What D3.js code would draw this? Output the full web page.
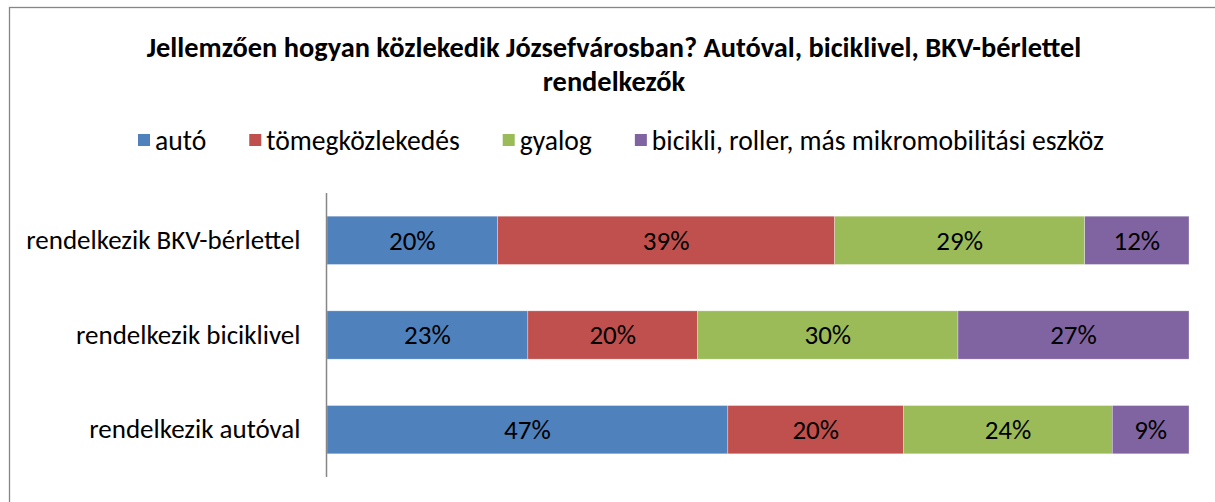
<!DOCTYPE html>
<html><head><meta charset="utf-8">
<script src="https://cdn.jsdelivr.net/npm/d3@7"></script>
<style>
html,body{margin:0;padding:0;background:#fff;}
svg{display:block;}
text{font-family:Carlito,Calibri,Lato,"Open Sans",sans-serif;fill:#000;}
</style></head>
<body>
<svg id="chart" width="1215" height="502"></svg>
<script>
const categories = ["rendelkezik BKV-bérlettel", "rendelkezik biciklivel", "rendelkezik autóval"];
const seriesNames = ["autó", "tömegközlekedés", "gyalog", "bicikli, roller, más mikromobilitási eszköz"];
const auto = [19.8, 23.3, 46.5];
const tomeg = [39.1, 19.7, 20.4];
const gyalog = [29.0, 30.2, 24.2];
const bicikli = [12.1, 26.8, 8.9];
const colors = ["#4F81BD", "#C0504D", "#9BBB59", "#8064A2"];
const titleLines = ["Jellemzően hogyan közlekedik Józsefvárosban? Autóval, biciklivel, BKV-bérlettel", "rendelkezők"];

const svg = d3.select("#chart");
const W = 1215, H = 502;
const FS = 27;

// outer border
svg.append("rect").attr("x", 9.5).attr("y", 7.5).attr("width", 1300).attr("height", 600)
  .attr("fill", "none").attr("stroke", "#868686").attr("stroke-width", 1.3);

// title
const title = svg.append("text").attr("text-anchor", "middle")
  .style("font-weight", "bold").style("font-size", "28.4px");
titleLines.forEach((t, i) => title.append("tspan").attr("x", 614).attr("y", 57 + i * 34).text(t));

const keys = ["auto", "tomeg", "gyalog", "bicikli"];
const rows = categories.map((c, i) => ({cat: c, auto: auto[i], tomeg: tomeg[i], gyalog: gyalog[i], bicikli: bicikli[i]}));
const stack = d3.stack().keys(keys).offset(d3.stackOffsetExpand)(rows);

const margin = {left: 327, right: 26, top: 193, bottom: 25};
const x = d3.scaleLinear().domain([0, 1]).range([margin.left, W - margin.right]);
const y = d3.scaleBand().domain(categories).range([margin.top, H - margin.bottom]).paddingInner(0.49).paddingOuter(0.245);

const g = svg.append("g");
stack.forEach((s, si) => {
  g.selectAll(null).data(s).enter().append("rect")
    .attr("x", d => x(d[0])).attr("width", d => x(d[1]) - x(d[0]))
    .attr("y", d => y(d.data.cat)).attr("height", y.bandwidth())
    .attr("fill", colors[si]).attr("stroke", "rgba(255,255,255,0.5)").attr("stroke-width", 0.6);
  g.selectAll(null).data(s).enter().append("text")
    .attr("x", d => (x(d[0]) + x(d[1])) / 2).attr("y", d => y(d.data.cat) + y.bandwidth() / 2)
    .attr("dy", "0.35em").attr("text-anchor", "middle").style("font-size", FS + "px")
    .text(d => Math.round(d.data[keys[si]]) + "%");
});

// y axis
const yAxis = d3.axisLeft(y).tickSize(0).tickPadding(26);
const ya = svg.append("g").attr("transform", `translate(${margin.left - 0.5},0)`).call(yAxis);
ya.select(".domain").attr("stroke", "#868686").attr("stroke-width", 1.5).attr("d", `M0,${margin.top}V${H - margin.bottom}`);
ya.selectAll("text").style("font-size", FS + "px").attr("font-family", null);

// legend
const legend = svg.append("g");
let lx = 138;
const gap = 43;
seriesNames.forEach((n, i) => {
  const it = legend.append("g").attr("transform", `translate(${lx},140)`);
  it.append("rect").attr("x", 0).attr("y", -6).attr("width", 12).attr("height", 12).attr("fill", colors[i]);
  const t = it.append("text").attr("x", 17).attr("y", 0).attr("dy", "0.35em").style("font-size", "27.6px").text(n);
  lx += 17 + t.node().getComputedTextLength() + gap;
});
</script>
</body></html>
